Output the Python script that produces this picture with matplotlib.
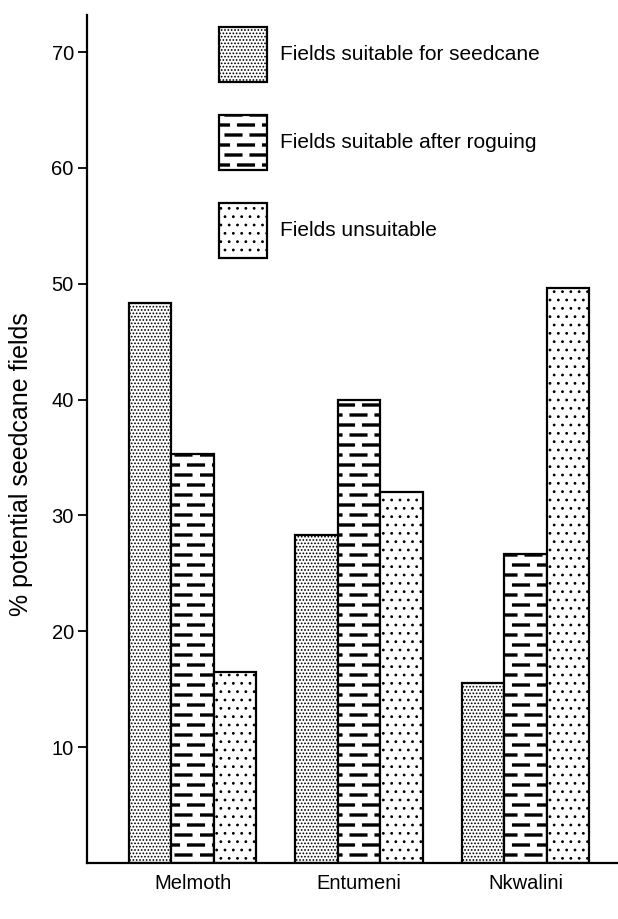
import warnings
import numpy as np
import matplotlib
matplotlib.use('Agg')
import matplotlib.pyplot as plt
import matplotlib.hatch as mhatch
from matplotlib.path import Path

warnings.filterwarnings('ignore')

# ---------------- data ----------------
regions = ['Melmoth', 'Entumeni', 'Nkwalini']
series_names = ['Fields suitable for seedcane',
                'Fields suitable after roguing',
                'Fields unsuitable']
suitable = [48.3, 28.3, 15.5]
after_roguing = [35.3, 40.0, 26.7]
unsuitable = [16.5, 32.0, 49.6]
yticks = [10, 20, 30, 40, 50, 60, 70]
ylabel_text = '% potential seedcane fields'


# ------------- custom dash hatch (brick-like short dashes) -------------
class DashHatch(mhatch.HatchPatternBase):
    rows = 10
    per_row = 4
    dash_len = 0.17
    dash_h = 0.022

    def __init__(self, hatch, density):
        self.active = 'd' in hatch
        self.num_vertices = (self.rows * (self.per_row + 1) * 5
                             if self.active else 0)

    def set_vertices_and_codes(self, vertices, codes):
        verts = []
        cds = []
        for j in range(self.rows):
            y = (j + 0.5) / self.rows
            off = (j % 2) * 0.5 / self.per_row
            for k in range(self.per_row + 1):
                x0 = off + (k - 1) / self.per_row
                x1 = x0 + self.dash_len
                h = self.dash_h / 2
                verts += [(x0, y - h), (x1, y - h), (x1, y + h),
                          (x0, y + h), (x0, y - h)]
                cds += [Path.MOVETO, Path.LINETO, Path.LINETO,
                        Path.LINETO, Path.CLOSEPOLY]
        vertices[:] = np.array(verts)
        codes[:] = np.array(cds)


mhatch._hatch_types.append(DashHatch)

plt.rcParams['hatch.linewidth'] = 0.8
plt.rcParams['hatch.color'] = 'black'
plt.rcParams['font.family'] = ['Liberation Sans', 'DejaVu Sans']

fig = plt.figure(figsize=(6.18, 9.19), dpi=100)
ax = fig.add_axes([87 / 618, 1 - 863 / 919, (618 - 87) / 618, (863 - 15) / 919])

x = np.arange(len(regions))
w = 0.255
styles = [
    dict(hatch='.....', facecolor='white'),
    dict(hatch='d', facecolor='white'),
    dict(hatch='..', facecolor='white'),
]
series = [suitable, after_roguing, unsuitable]
containers = []
for i, (vals, st) in enumerate(zip(series, styles)):
    c = ax.bar(x + (i - 1) * w, vals, width=w, edgecolor='black',
               linewidth=1.6, label=series_names[i], **st)
    containers.append(c)

ax.set_xlim(-0.635, 2.556)
ax.set_ylim(0, 73.2)
ax.set_yticks(yticks)
ax.set_yticklabels([str(t) for t in yticks])
ax.set_xticks(x)
ax.set_xticklabels(regions)
ax.tick_params(axis='y', direction='out', length=6.5, width=1.3,
               labelsize=14.5, pad=3)
ax.tick_params(axis='x', length=0, labelsize=14.5, pad=8)
for s in ['top', 'right']:
    ax.spines[s].set_visible(False)
for s in ['left', 'bottom']:
    ax.spines[s].set_linewidth(1.6)

ax.set_ylabel(ylabel_text, fontsize=18)
ax.yaxis.set_label_coords(-0.102, 0.47)

leg = ax.legend(handles=containers, labels=series_names, loc='upper left',
                bbox_to_anchor=(219 / 618, 1 - 27 / 919),
                bbox_transform=fig.transFigure, frameon=False, fontsize=15,
                handlelength=2.3, handleheight=3.68, labelspacing=1.59,
                handletextpad=0.65, borderpad=0, borderaxespad=0)

fig.savefig('out.png', dpi=100)
